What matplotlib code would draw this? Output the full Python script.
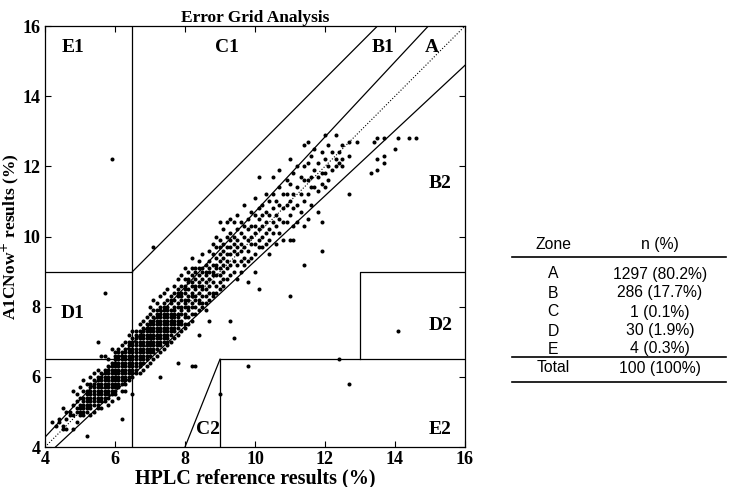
import matplotlib.pyplot as plt
from matplotlib.lines import Line2D

# HPLC value -> A1CNow+ values (0.1 % resolution)
columns = [
    (4.2, [4.7]),
    (4.3, [4.6]),
    (4.4, [4.8, 4.7]),
    (4.5, [5.1, 4.6, 4.5]),
    (4.6, [5.0, 4.8, 4.5]),
    (4.7, [5.0, 4.9]),
    (4.8, [5.6, 5.2, 4.9, 4.5]),
    (4.9, [5.5, 5.3, 5.1, 5.0, 4.7]),
    (5.0, [5.7, 5.4, 5.2, 5.1, 5.0, 4.9]),
    (5.1, [5.9, 5.6, 5.4, 5.3, 5.2, 5.1, 5.0, 4.9]),
    (5.2, [5.8, 5.6, 5.5, 5.4, 5.3, 5.2, 5.1, 5.0, 4.3]),
    (5.3, [6.0, 5.8, 5.7, 5.6, 5.5, 5.4, 5.3, 5.2, 5.1, 4.9]),
    (5.4, [6.1, 5.9, 5.8, 5.7, 5.6, 5.5, 5.4, 5.3, 5.2, 5.0]),
    (5.5, [7.0, 6.2, 6.0, 5.9, 5.8, 5.7, 5.6, 5.5, 5.4, 5.3, 5.2, 5.1]),
    (5.6, [6.6, 6.1, 6.0, 5.9, 5.8, 5.7, 5.6, 5.5, 5.4, 5.3, 5.1]),
    (5.7, [8.4, 6.6, 6.2, 6.1, 6.0, 5.9, 5.8, 5.7, 5.6, 5.5, 5.4, 5.3]),
    (5.8, [6.5, 6.3, 6.2, 6.1, 6.0, 5.9, 5.8, 5.7, 5.6, 5.5, 5.4, 5.2]),
    (5.9, [12.2, 6.8, 6.4, 6.3, 6.2, 6.1, 6.0, 5.9, 5.8, 5.7, 5.6, 5.5, 5.3]),
    (6.0, [6.7, 6.6, 6.5, 6.4, 6.3, 6.2, 6.1, 6.0, 5.9, 5.8, 5.7, 5.6, 5.5]),
    (6.1, [6.8, 6.7, 6.6, 6.5, 6.4, 6.3, 6.2, 6.1, 6.0, 5.9, 5.8, 5.7, 5.4]),
    (6.2, [6.9, 6.7, 6.6, 6.5, 6.4, 6.3, 6.2, 6.1, 6.0, 5.9, 5.8, 5.6, 4.8]),
    (6.3, [7.0, 6.8, 6.7, 6.6, 6.5, 6.4, 6.3, 6.2, 6.1, 6.0, 5.9, 5.8, 5.6]),
    (6.4, [7.2, 7.0, 6.9, 6.8, 6.7, 6.6, 6.5, 6.4, 6.3, 6.2, 6.1, 6.0, 5.9]),
    (6.5, [7.3, 7.1, 7.0, 6.9, 6.8, 6.7, 6.6, 6.5, 6.4, 6.3, 6.2, 6.1, 6.0, 5.5]),
    (6.6, [7.3, 7.2, 7.1, 7.0, 6.9, 6.8, 6.7, 6.6, 6.5, 6.4, 6.3, 6.2, 6.1]),
    (6.7, [7.5, 7.3, 7.2, 7.1, 7.0, 6.9, 6.8, 6.7, 6.6, 6.5, 6.4, 6.3, 6.1]),
    (6.8, [7.6, 7.4, 7.3, 7.2, 7.1, 7.0, 6.9, 6.8, 6.7, 6.6, 6.5, 6.4, 6.2]),
    (6.9, [7.7, 7.5, 7.4, 7.3, 7.2, 7.1, 7.0, 6.9, 6.8, 6.7, 6.6, 6.5, 6.3]),
    (7.0, [8.0, 7.8, 7.6, 7.5, 7.4, 7.3, 7.2, 7.1, 7.0, 6.9, 6.8, 6.7, 6.6, 6.4]),
    (7.1, [9.7, 8.2, 7.9, 7.7, 7.6, 7.5, 7.4, 7.3, 7.2, 7.1, 7.0, 6.9, 6.8, 6.7, 6.5]),
    (7.2, [8.1, 7.9, 7.8, 7.7, 7.6, 7.5, 7.4, 7.3, 7.2, 7.1, 7.0, 6.9, 6.8, 6.6]),
    (7.3, [8.3, 8.0, 7.9, 7.8, 7.7, 7.6, 7.5, 7.4, 7.3, 7.2, 7.1, 7.0, 6.9, 6.7, 6.0]),
    (7.4, [8.4, 8.1, 8.0, 7.9, 7.8, 7.7, 7.6, 7.5, 7.4, 7.3, 7.2, 7.1, 7.0, 6.8]),
    (7.5, [8.5, 8.2, 8.0, 7.9, 7.8, 7.7, 7.6, 7.5, 7.4, 7.3, 7.2, 7.1, 7.0, 6.9]),
    (7.6, [8.3, 8.2, 8.1, 7.9, 7.8, 7.7, 7.6, 7.5, 7.4, 7.3, 7.2, 7.0]),
    (7.7, [8.6, 8.4, 8.2, 8.0, 7.9, 7.8, 7.7, 7.6, 7.5, 7.4, 7.3, 7.1]),
    (7.8, [8.8, 8.5, 8.4, 8.3, 8.1, 8.0, 7.8, 7.7, 7.6, 7.5, 7.4, 7.2, 6.4]),
    (7.9, [8.9, 8.6, 8.4, 8.3, 8.2, 8.0, 7.9, 7.8, 7.6, 7.5, 7.3]),
    (8.0, [9.1, 8.8, 8.6, 8.5, 8.4, 8.2, 8.1, 8.0, 7.8, 7.7, 7.5, 7.4]),
    (8.1, [9.0, 8.8, 8.7, 8.5, 8.3, 8.2, 8.0, 7.9, 7.7, 7.5]),
    (8.2, [9.4, 9.1, 8.9, 8.7, 8.6, 8.4, 8.3, 8.1, 8.0, 7.8, 7.6, 6.3]),
    (8.3, [9.1, 9.0, 8.8, 8.6, 8.5, 8.3, 8.2, 8.0, 7.8, 6.3]),
    (8.4, [9.3, 9.1, 8.9, 8.7, 8.6, 8.4, 8.2, 8.1, 7.9, 7.2]),
    (8.5, [9.5, 9.1, 9.0, 8.8, 8.6, 8.5, 8.3, 8.1, 8.0]),
    (8.6, [9.2, 9.0, 8.9, 8.7, 8.5, 8.3, 8.1, 7.9]),
    (8.7, [9.6, 9.3, 9.1, 9.0, 8.8, 8.6, 8.4, 8.2, 7.6]),
    (8.8, [9.8, 9.5, 9.2, 9.0, 8.9, 8.7, 8.4, 8.3]),
    (8.9, [10.0, 9.7, 9.4, 9.2, 9.1, 8.9, 8.6, 8.4]),
    (9.0, [10.4, 9.9, 9.7, 9.5, 9.3, 9.1, 8.9, 8.7, 8.5, 5.5]),
    (9.1, [10.2, 9.8, 9.6, 9.4, 9.2, 9.0, 8.8, 8.6]),
    (9.2, [10.4, 10.0, 9.7, 9.5, 9.3, 9.1, 8.8]),
    (9.3, [10.5, 10.1, 9.9, 9.7, 9.5, 9.2, 8.9, 7.6]),
    (9.4, [10.4, 10.0, 9.8, 9.6, 9.3, 9.0, 7.1]),
    (9.5, [10.6, 10.2, 9.9, 9.7, 9.5, 9.2, 8.8]),
    (9.6, [10.4, 10.1, 9.8, 9.6, 9.3, 9.0]),
    (9.7, [10.9, 10.3, 10.0, 9.7, 9.4, 9.2]),
    (9.8, [10.5, 10.2, 9.9, 9.6, 9.3, 8.7, 6.3]),
    (9.9, [10.7, 10.3, 10.0, 9.8, 9.4]),
    (10.0, [11.1, 10.6, 10.3, 10.1, 9.8, 9.5, 9.0]),
    (10.1, [11.7, 10.8, 10.5, 10.2, 9.9, 9.7, 8.5]),
    (10.2, [10.9, 10.6, 10.3, 10.0, 9.7]),
    (10.3, [11.2, 10.7, 10.4, 10.1, 9.8]),
    (10.4, [11.0, 10.6, 10.2, 9.9, 9.5]),
    (10.5, [11.7, 11.2, 10.8, 10.4, 10.1]),
    (10.6, [11.0, 10.6, 10.3, 9.8]),
    (10.7, [11.9, 11.4, 10.9, 10.5, 10.1]),
    (10.8, [11.2, 10.8, 10.4, 9.9]),
    (10.9, [11.6, 11.2, 10.9, 10.4]),
    (11.0, [12.2, 11.5, 11.0, 10.6, 9.9, 8.3]),
    (11.1, [11.8, 11.2, 10.8, 10.3, 9.9]),
    (11.2, [12.0, 11.4, 10.9, 10.4]),
    (11.3, [11.7, 11.2, 10.7]),
    (11.4, [12.6, 12.0, 11.6, 11.0, 10.3, 9.2]),
    (11.5, [12.7, 12.1, 11.6, 11.2, 10.5]),
    (11.6, [12.3, 11.7, 11.4, 10.9]),
    (11.7, [12.5, 11.9, 11.4]),
    (11.8, [12.1, 11.7, 11.3, 10.7]),
    (11.9, [12.4, 11.8, 11.5, 10.4, 9.6]),
    (12.0, [12.9, 12.2, 11.8, 11.4]),
    (12.1, [12.6, 12.0, 11.6]),
    (12.2, [12.4, 11.9]),
    (12.3, [12.9, 12.2, 12.0]),
    (12.4, [12.4, 12.1, 6.5]),
    (12.5, [12.6, 12.2, 12.0]),
    (12.7, [12.7, 12.3, 11.2, 5.8]),
    (12.9, [12.7]),
    (13.3, [11.8]),
    (13.4, [12.7]),
    (13.5, [12.8, 12.2, 11.9]),
    (13.7, [12.8, 12.3, 12.1]),
    (14.0, [12.5]),
    (14.1, [12.8, 7.3]),
    (14.4, [12.8]),
    (14.6, [12.8]),
]

zone_names = ["A", "B", "C", "D", "E", "Total"]
zone_counts = ["1297 (80.2%)", "286 (17.7%)", "1 (0.1%)", "30 (1.9%)",
               "4 (0.3%)", "100 (100%)"]

hplc = [x for x, ys in columns for _ in ys]
a1c = [y for _, ys in columns for y in ys]

serif = ["Liberation Serif", "DejaVu Serif"]
fig = plt.figure(figsize=(7.37, 4.87), dpi=100)
ax = fig.add_axes([45 / 737, 1 - 447 / 487, 420 / 737, 421 / 487])

ax.plot(hplc, a1c, "o", color="black", ms=2.9, mew=0, zorder=3)

lw = 0.9
ax.plot([4, 16], [4, 16], ":", color="black", lw=0.8)
ax.plot([4, 16], [4 * 1.07, 16 * 1.07], color="black", lw=lw)
ax.plot([4, 16], [4 * 0.93, 16 * 0.93], color="black", lw=lw)
ax.plot([6.5, 13.5], [9, 16], color="black", lw=lw)
ax.plot([6.5, 6.5], [4, 16], color="black", lw=lw)
ax.plot([4, 6.5], [9, 9], color="black", lw=lw)
ax.plot([4, 6.5], [6.5, 6.5], color="black", lw=lw)
ax.plot([13, 13, 16], [6.5, 9, 9], color="black", lw=lw)
ax.plot([9, 16], [6.5, 6.5], color="black", lw=lw)
ax.plot([9, 9], [4, 6.5], color="black", lw=lw)
ax.plot([8, 9], [4, 6.5], color="black", lw=lw)

zone_font = dict(family=serif, fontsize=14, fontweight="bold", ha="center", va="center")
for name, x, y in [("E1", 4.8, 15.4), ("C1", 9.2, 15.4), ("B1", 13.65, 15.4),
                   ("A", 15.05, 15.4), ("B2", 15.3, 11.5), ("D1", 4.8, 7.8),
                   ("D2", 15.3, 7.45), ("C2", 8.65, 4.5), ("E2", 15.3, 4.5)]:
    ax.text(x, y, name, **zone_font)

ax.set_xlim(4, 16)
ax.set_ylim(4, 16)
ax.set_xticks(range(4, 17, 2))
ax.set_yticks(range(4, 17, 2))
ax.tick_params(direction="in", length=4, width=0.8, top=True, right=True, pad=3)
for lab in ax.get_xticklabels() + ax.get_yticklabels():
    lab.set_family(serif)
    lab.set_fontsize(13)
    lab.set_fontweight("bold")
for sp in ax.spines.values():
    sp.set_linewidth(0.9)

ax.set_title("Error Grid Analysis", family=serif, fontsize=12.5, fontweight="bold", pad=3)
ax.set_xlabel("HPLC reference results (%)", family=serif, fontsize=14.5,
              fontweight="bold", labelpad=0)
ax.set_ylabel("A1CNow$^{+}$ results (%)", family=serif, fontsize=12.5,
              fontweight="bold")
ax.yaxis.set_label_coords(-0.056, 0.5)

# summary table on the right
W, H = 737, 487
def fx(px): return px / W
def fy(py): return 1 - py / H

tfont = dict(family="Liberation Sans", fontsize=11.3, ha="center", va="center")
fig.text(fx(553), fy(245), "Zone", **tfont)
fig.text(fx(660), fy(245), "n (%)", **tfont)
rows_y = [274, 293, 312, 331, 349, 368]
for name, cnt, py in zip(zone_names, zone_counts, rows_y):
    fig.text(fx(553), fy(py), name, **tfont)
    fig.text(fx(660), fy(py), cnt, **tfont)
for py in [257, 357, 382]:
    fig.add_artist(Line2D([fx(512), fx(726)], [fy(py), fy(py)], color="black", lw=1.2))

fig.savefig("out.png", dpi=100)
